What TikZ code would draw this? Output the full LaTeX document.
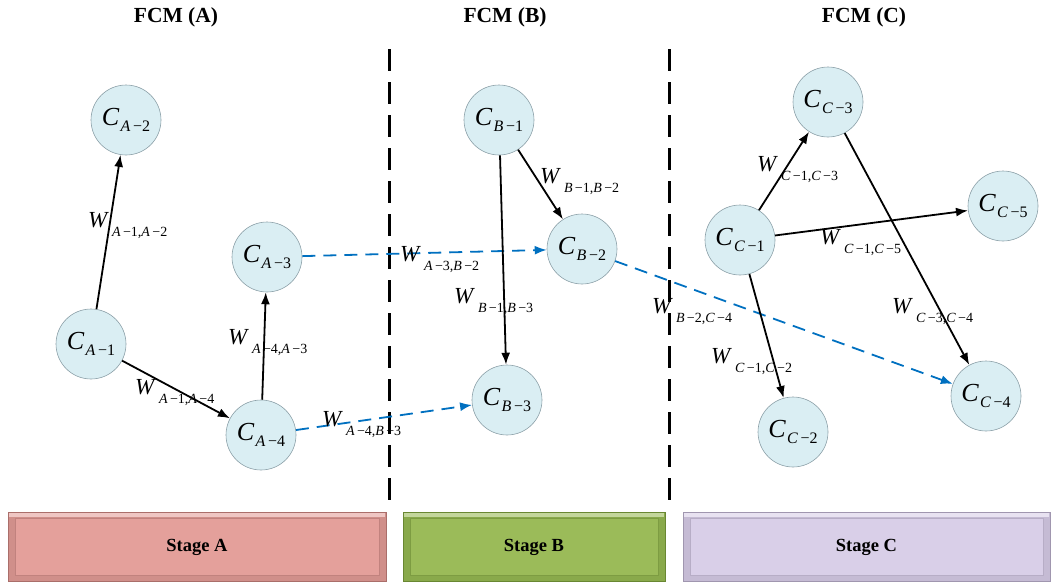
\documentclass[tikz,border=0pt]{standalone}
\usepackage{fontspec}
\setmainfont{Liberation Serif}
\usetikzlibrary{arrows.meta}
\definecolor{nodefill}{RGB}{218,238,243}
\definecolor{nodeline}{RGB}{140,160,168}
\definecolor{dblue}{RGB}{0,112,192}
\definecolor{stA}{RGB}{228,160,155}
\definecolor{stAd}{RGB}{170,110,106}
\definecolor{stB}{RGB}{155,187,89}
\definecolor{stBd}{RGB}{105,135,50}
\definecolor{stC}{RGB}{217,207,232}
\definecolor{stCd}{RGB}{160,150,175}
\newcommand\cn[2]{\fontsize{26}{26}\selectfont\textit{C}\kern1pt\raisebox{-6pt}{\fontsize{16}{16}\selectfont\textit{#1}\,−#2}}
\newcommand\ws[4]{\fontsize{23}{23}\selectfont\textit{W}\kern3pt\raisebox{-9pt}{\fontsize{14}{14}\selectfont\textit{#1}\,−#2,\textit{#3}\,−#4}}
\tikzset{
  fcm/.style={circle,draw=nodeline,line width=0.6pt,fill=nodefill,minimum size=70pt,inner sep=0pt},
  blk/.style={draw=black,line width=1.8pt,-{Latex[length=12pt,width=9pt]}},
  blu/.style={draw=dblue,line width=1.8pt,dash pattern=on 13pt off 8pt,-{Latex[length=12pt,width=9pt]}},
  wl/.style={anchor=base west,inner sep=0pt},
  ttl/.style={font=\fontsize{21.5}{21.5}\selectfont\bfseries},
  sep/.style={draw=black,line width=3pt,dash pattern=on 22pt off 11pt},
  stagetxt/.style={font=\fontsize{18.5}{18.5}\selectfont\bfseries}
}
\begin{document}
\begin{tikzpicture}[x=1pt,y=-1pt]
\useasboundingbox (0,0) rectangle (1051,582);
% titles
\node[ttl] (tA) at (176,17) {FCM (A)};
\node[ttl] (tB) at (505,17) {FCM (B)};
\node[ttl] (tC) at (864,17) {FCM (C)};
% separators
\coordinate (s1t) at (389,49); \coordinate (s1b) at (389,500);
\coordinate (s2t) at (669,49); \coordinate (s2b) at (669,500);
\draw[sep] (s1t) -- (s1b);
\draw[sep] (s2t) -- (s2b);
% stage boxes
\foreach \xa/\xb/\c/\d/\n/\t in {8/386/stA/stAd/sA/Stage A, 403/665/stB/stBd/sB/Stage B, 683/1050/stC/stCd/sC/Stage C}{
  \fill[\d!35!\c] (\xa,512) rectangle (\xb,581);
  \fill[\c!60!white] (\xa+1,513) rectangle (\xb-1,517);
  \draw[\d,line width=0.8pt] (\xa,512) rectangle (\xb,581);
  \fill[\c] (\xa+7,518) rectangle (\xb-7,575);
  \draw[\d!60!\c,line width=0.6pt] (\xa+7,518) rectangle (\xb-7,575);
  \node[stagetxt] (\n) at ({(\xa+\xb)/2},547) {\t};
}
% nodes
\node[fcm] (A2) at (126,120) {\cn{A}{2}};
\node[fcm] (A1) at (91,344) {\cn{A}{1}};
\node[fcm] (A3) at (267,257) {\cn{A}{3}};
\node[fcm] (A4) at (261,435) {\cn{A}{4}};
\node[fcm] (B1) at (499,120) {\cn{B}{1}};
\node[fcm] (B2) at (582,249) {\cn{B}{2}};
\node[fcm] (B3) at (507,400) {\cn{B}{3}};
\node[fcm] (C3) at (828,102) {\cn{C}{3}};
\node[fcm] (C1) at (740,240) {\cn{C}{1}};
\node[fcm] (C5) at (1003,206) {\cn{C}{5}};
\node[fcm] (C4) at (986,396) {\cn{C}{4}};
\node[fcm] (C2) at (793,432) {\cn{C}{2}};
% edges
\draw[blk] (A1) -- (A2);
\draw[blk] (A1) -- (A4);
\draw[blk] (A4) -- (A3);
\draw[blu] (A3) -- (B2);
\draw[blu] (A4) -- (B3);
\draw[blk] (B1) -- (B2);
\draw[blk] (B1) -- (B3);
\draw[blu] (B2) -- (C4);
\draw[blk] (C1) -- (C3);
\draw[blk] (C1) -- (C5);
\draw[blk] (C1) -- (C2);
\draw[blk] (C3) -- (C4);
% weight labels
\node[wl] (w1) at (88,227) {\ws{A}{1}{A}{2}};
\node[wl] (w2) at (228,344) {\ws{A}{4}{A}{3}};
\node[wl] (w3) at (135,394) {\ws{A}{1}{A}{4}};
\node[wl] (w4) at (400,261) {\ws{A}{3}{B}{2}};
\node[wl] (w5) at (322,426) {\ws{A}{4}{B}{3}};
\node[wl] (w6) at (540,183) {\ws{B}{1}{B}{2}};
\node[wl] (w7) at (454,303) {\ws{B}{1}{B}{3}};
\node[wl] (w8) at (652,313) {\ws{B}{2}{C}{4}};
\node[wl] (w9) at (757,171) {\ws{C}{1}{C}{3}};
\node[wl] (w10) at (820,244) {\ws{C}{1}{C}{5}};
\node[wl] (w11) at (892,313) {\ws{C}{3}{C}{4}};
\node[wl] (w12) at (711,363) {\ws{C}{1}{C}{2}};
\end{tikzpicture}
\end{document}
